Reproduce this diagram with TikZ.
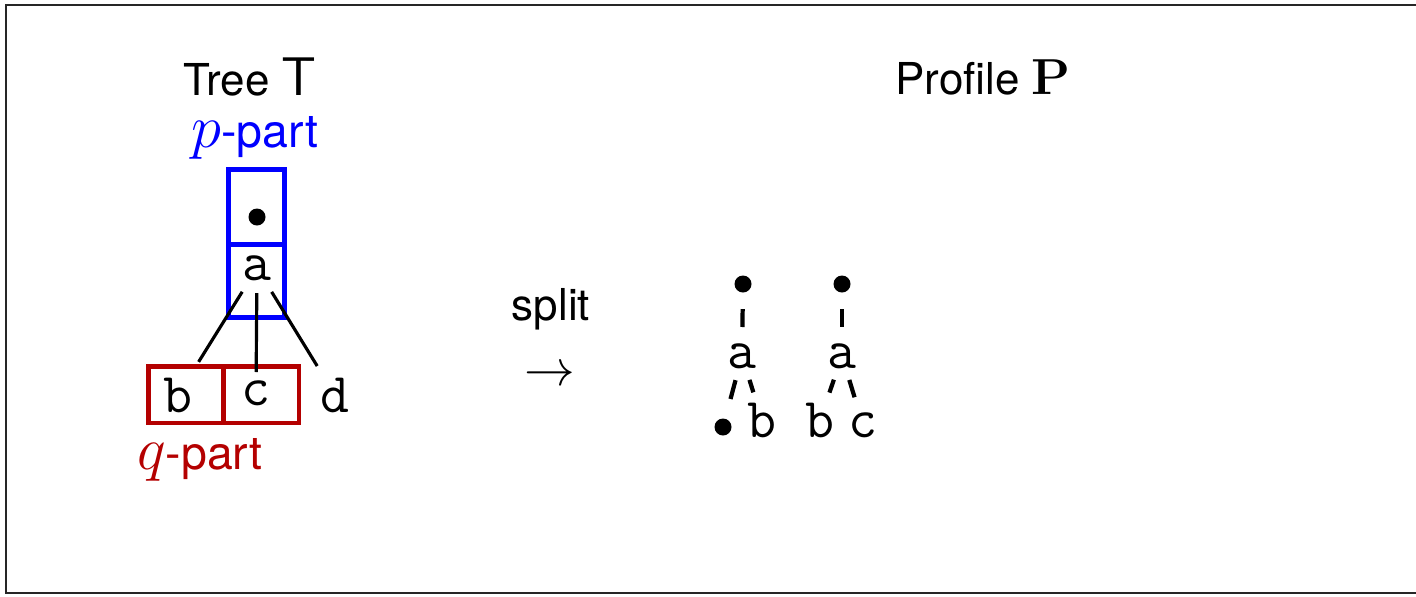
\documentclass[tikz,border=0pt]{standalone}
\usepackage[no-math]{fontspec}
\setmainfont{TeX Gyre Heros}
\usepackage{amssymb}
\usetikzlibrary{arrows}
\definecolor{pblue}{RGB}{0,0,255}
\definecolor{qred}{RGB}{180,0,0}
\newcommand{\bigmath}[1]{{\fontsize{16}{18}\selectfont$#1$}}
\tikzset{
  lbl/.style={anchor=base,inner sep=1pt,font=\fontsize{12.5}{15}\selectfont},
  partlbl/.style={anchor=base,inner sep=1pt,font=\fontsize{13.2}{16}\selectfont},
  letter/.style={font=\fontsize{16}{19}\selectfont\ttfamily},
  dot/.style={circle,fill,inner sep=0pt,minimum size=0.17cm},
  edge/.style={line width=0.9pt,shorten <=0.28cm},
  tick/.style={line width=1.2pt,shorten <=0.25cm,shorten >=0.29cm},
  part/.style={line width=1.15pt}
}

\begin{document}
\begin{tikzpicture}[x=0.01cm,y=-0.01cm]
\useasboundingbox (0,0) rectangle (1416,596);
\draw[line width=0.6pt,black!85] (6,5) rectangle (1440,593);

\draw (250,95)  node (tree) [lbl] {Tree {\fontsize{15.5}{18}\selectfont\sffamily T}};
\draw (255,147) node (ppart) [partlbl,pblue] {\bigmath{p}-part};
\draw (200,469) node (qpart) [partlbl,qred] {\bigmath{q}-part};

\draw[part,pblue] (228.5,169.5) rectangle (284.5,317.5) (228.5,244.5) -- (284.5,244.5);
\draw[part,qred] (148.5,366.5) rectangle (299,423) (223.5,366.5) -- (223.5,423);

\draw (257,217) node (t1) [dot] {};
\draw (257,268) node (t2) [letter] {a};
\draw (178,395) node (t3) [letter] {b};
\draw (256,393) node (t4) [letter] {c};
\draw (335,395) node (t5) [letter] {d};
\draw[edge,shorten >=0.39cm] (t2.center) -- (t3.center);
\draw[edge,shorten <=0.25cm,shorten >=0.21cm] (t2.center) -- (t4.center);
\draw[edge,shorten >=0.34cm] (t2.center) -- (t5.center);

\draw (551,320) node (split) [lbl] {split};
\draw (550,376) node (arr) [font=\fontsize{15}{18}\selectfont] {$\rightarrow$};

\draw (983,94) node (prof) [lbl] {Profile {\fontsize{14.5}{17}\selectfont$\mathbf{P}$}};

\draw (743,284) node (p11) [dot] {};
\draw (742,356) node (p12) [letter] {a};
\draw (723,427) node (p13) [dot] {};
\draw (762,420) node (p14) [letter] {b};
\draw[tick] (p11.center) -- (p12.center);
\draw[tick] (p12.center) -- (p13.center);
\draw[tick] (p12.center) -- (p14.center);

\draw (842,284) node (p21) [dot] {};
\draw (842,356) node (p22) [letter] {a};
\draw (820,420) node (p23) [letter] {b};
\draw (863,425) node (p24) [letter] {c};
\draw[tick] (p21.center) -- (p22.center);
\draw[tick] (p22.center) -- (p23.center);
\draw[tick] (p22.center) -- (p24.center);
\end{tikzpicture}
\end{document}
